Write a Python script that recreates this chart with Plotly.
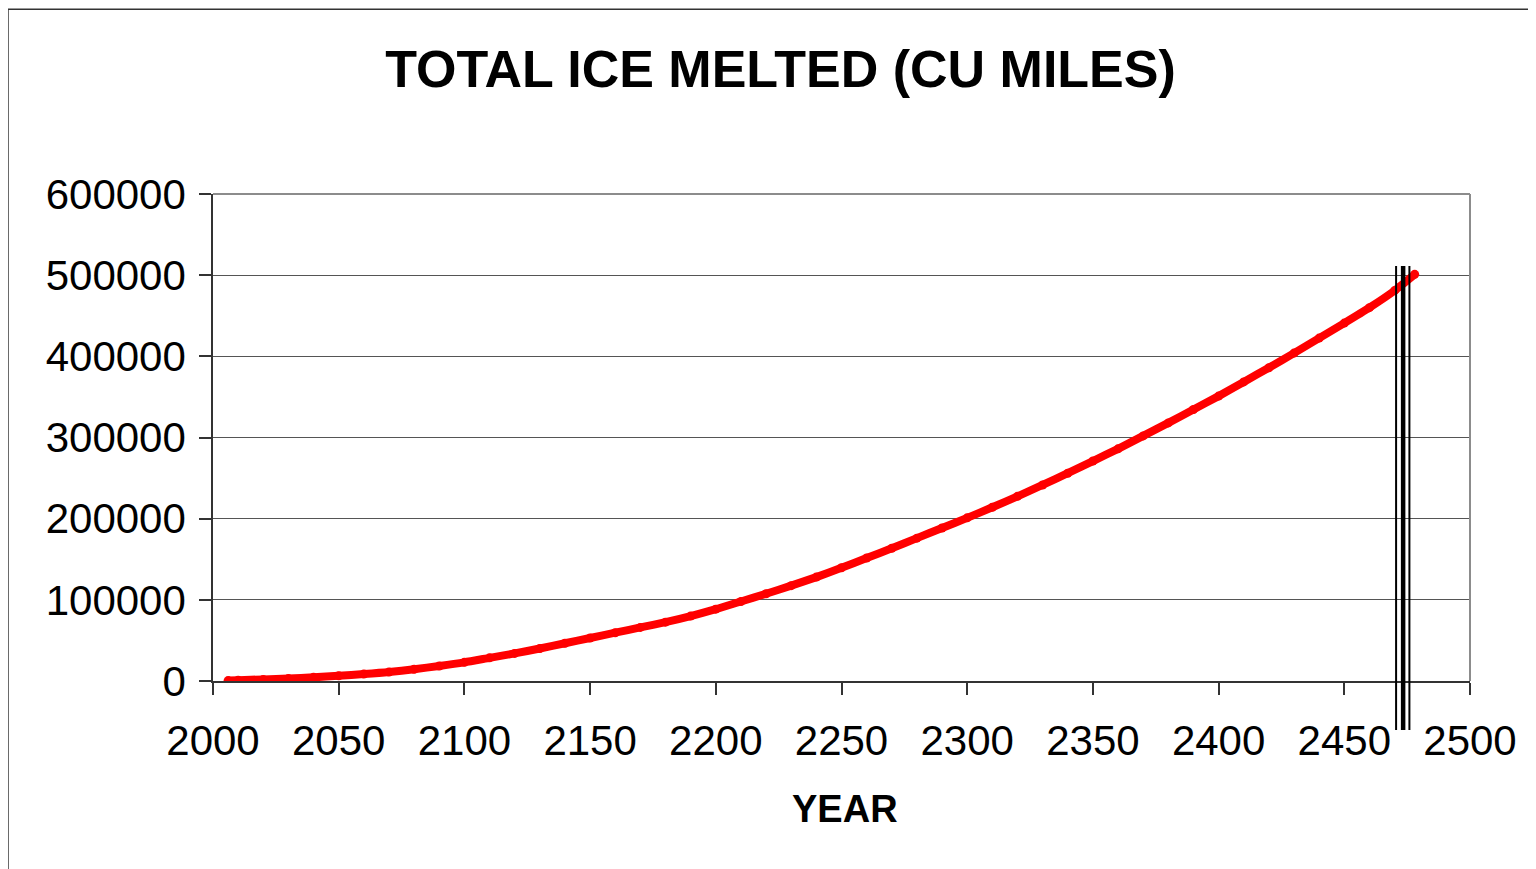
import plotly.graph_objects as go

# ---- data ----
years = [2006, 2010, 2020, 2030, 2040, 2050, 2060, 2070, 2080, 2090,
         2100, 2110, 2120, 2130, 2140, 2150, 2160, 2170, 2180, 2190,
         2200, 2210, 2220, 2230, 2240, 2250, 2260, 2270, 2280, 2290,
         2300, 2310, 2320, 2330, 2340, 2350, 2360, 2370, 2380, 2390,
         2400, 2410, 2420, 2430, 2440, 2450, 2460, 2470, 2478]
ice_melted = [500, 1000, 2000, 3000, 4500, 6500, 8500, 11000, 14500, 18500,
              23000, 28500, 34000, 40000, 46500, 53000, 59500, 66000, 72500, 80000,
              88500, 98000, 107500, 117500, 128000, 139500, 151500, 163500, 176000, 188500,
              201000, 214000, 227500, 241500, 256000, 271000, 286000, 302000, 318000, 334500,
              351000, 368500, 386000, 404000, 422500, 441000, 460000, 481000, 501000]

marker_line_years = [2470.6, 2473.4, 2475.9]
marker_line_widths = [2, 4.5, 2]

x_ticks = [2000, 2050, 2100, 2150, 2200, 2250, 2300, 2350, 2400, 2450, 2500]
y_ticks = [0, 100000, 200000, 300000, 400000, 500000, 600000]

title_text = "TOTAL ICE MELTED (CU MILES)"
x_title = "YEAR"

FONT = "Liberation Sans, Arial, sans-serif"
W, H = 1528, 861  # page body has an 8px margin

fig = go.Figure()
fig.add_trace(go.Scatter(
    x=years, y=ice_melted, mode="lines+markers",
    line=dict(color="#FF0000", width=8, shape="spline", smoothing=0.6),
    marker=dict(color="#FF0000", size=9),
    showlegend=False, hoverinfo="x+y",
))

shapes = []
# vertical black marker lines
for yr, w in zip(marker_line_years, marker_line_widths):
    shapes.append(dict(type="line", xref="x", yref="paper", x0=yr, x1=yr,
                       y0=-0.1006, y1=0.852, line=dict(color="black", width=w),
                       layer="above"))
# plot-area top and right border (gray)
shapes.append(dict(type="line", xref="paper", yref="paper", x0=0, x1=1, y0=1, y1=1,
                   line=dict(color="#8c8c8c", width=2)))
shapes.append(dict(type="line", xref="paper", yref="paper", x0=1, x1=1, y0=0, y1=1,
                   line=dict(color="#8c8c8c", width=2)))
# chart-area border (left and top)
shapes.append(dict(type="line", xref="paper", yref="paper", x0=-0.1631, x1=1.06,
                   y0=1.3792, y1=1.3792, line=dict(color="#333333", width=1.5)))
shapes.append(dict(type="line", xref="paper", yref="paper", x0=-0.1631, x1=-0.1631,
                   y0=-0.42, y1=1.3792, line=dict(color="#333333", width=1.5)))

fig.update_layout(
    width=W, height=H, autosize=False,
    margin=dict(l=205, r=66, t=186, b=188),
    paper_bgcolor="white", plot_bgcolor="white",
    font=dict(family=FONT, color="black"),
    title=dict(text=title_text, x=772.5 / W, xanchor="center", xref="container",
               y=1 - 61 / H, yanchor="middle", yref="container",
               font=dict(family=FONT, size=52, color="black", weight="bold")),
    shapes=shapes,
    annotations=[dict(text=x_title, xref="paper", yref="paper", x=0.5028, y=-0.2628,
                      xanchor="center", yanchor="middle", showarrow=False,
                      font=dict(family=FONT, size=38, color="black", weight="bold"))],
    xaxis=dict(range=[2000, 2500], tickvals=x_ticks, ticktext=[str(t) for t in x_ticks],
               showgrid=False, zeroline=False, showline=True, linecolor="#333333",
               linewidth=1.5, ticks="outside", ticklen=12, tickcolor="#333333",
               tickwidth=1.5, tickfont=dict(family=FONT, size=42, color="black"),
               ticklabelstandoff=10),
    yaxis=dict(range=[0, 600000], tickvals=y_ticks, ticktext=[str(t) for t in y_ticks],
               showgrid=True, gridcolor="#555555", gridwidth=1, zeroline=False,
               showline=True, linecolor="#333333", linewidth=1.5, ticks="outside",
               ticklen=12, tickcolor="#333333", tickwidth=1.5,
               tickfont=dict(family=FONT, size=42, color="black"),
               ticklabelstandoff=5),
)

fig.write_html("out.html")
